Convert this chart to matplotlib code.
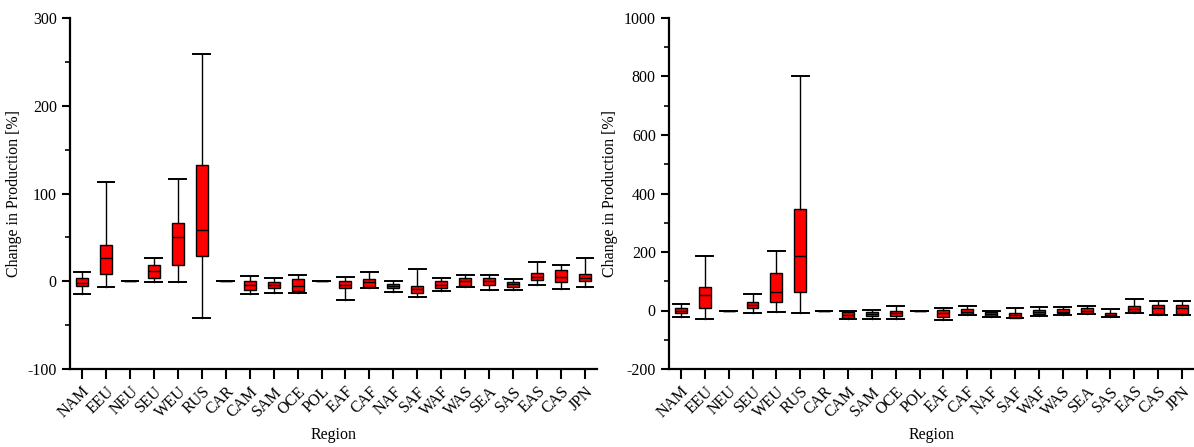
import matplotlib
matplotlib.use("Agg")
import matplotlib.pyplot as plt
from matplotlib.ticker import MultipleLocator

plt.rcParams['font.family'] = ['Liberation Serif', 'DejaVu Serif']
plt.rcParams['axes.unicode_minus'] = False

regions = ["NAM", "EEU", "NEU", "SEU", "WEU", "RUS", "CAR", "CAM", "SAM", "OCE", "POL",
           "EAF", "CAF", "NAF", "SAF", "WAF", "WAS", "SEA", "SAS", "EAS", "CAS", "JPN"]

# Left panel (whisker low, Q1, median, Q3, whisker high)
left_wlo = [-15, -7, 0, -1, -1, -42, 0, -15, -13, -13, 0, -21.5, -7.5, -11.7, -18, -11.3, -7, -9.7, -10, -4.5, -8.6, -6.3]
left_q1 = [-5, 8, 0, 3.5, 18.5, 29, 0, -9.5, -8, -11, 0, -7.5, -6, -7.5, -13, -7.5, -5, -4, -6, 1, -0.3, 0]
left_med = [-2, 26, 0, 12, 50, 58.5, 0, -4, -4, -5, 0, -4, -1, -5, -8.6, -4, 0, 0, -3, 5, 5, 4]
left_q3 = [4, 41, 0, 18, 66, 133, 0, 0, -1, 2, 0, 0, 3, -2.6, -4.9, 0, 4, 4, -0.3, 9.5, 12.5, 8]
left_whi = [10, 113.5, 0, 26, 116, 259.5, 0, 6.5, 3.5, 7.6, 0, 5, 10.6, 0.8, 13.6, 3.4, 7, 7, 2, 22, 19, 26.5]

# Right panel
right_wlo = [-20.6, -30, 0, -10, -4.6, -10, 0, -30, -28, -28, 0, -32, -16, -23, -27, -20.5, -17, -12.5, -23, -7, -17, -16]
right_q1 = [-9, 7, 0, 7, 29.5, 62, 0, -24, -20, -20, 0, -22, -12.5, -20.5, -24, -12.5, -10, -10, -20.5, -4.5, -12.5, -12.5]
right_med = [0, 53.6, 0, 18, 62, 185, 0, -15, -12, -10, 0, -10, -4.5, -12.5, -15, -4.5, -3.5, 0, -14, 4.6, 7, 7]
right_q3 = [10, 81, 0, 29.5, 127, 348, 0, -6, -6, -2, 0, 1, 4.5, -4.5, -7, 1, 4.6, 10, -7, 16, 18, 18]
right_whi = [21.6, 186, 0, 56, 204, 803, 0, -1, 0.5, 14, 0, 10, 14, 0, 9, 11.4, 11, 16, 4.5, 39, 32, 34]

fig = plt.figure(figsize=(11.94, 4.47), dpi=100)
ax1 = fig.add_axes([70/1194, 1-369/447, 527/1194, 351/447])
ax2 = fig.add_axes([669/1194, 1-369/447, 525/1194, 351/447])


def draw(ax, wlo, q1, med, q3, whi, ylim, major, minor):
    stats = []
    for i, r in enumerate(regions):
        stats.append(dict(label=r, whislo=wlo[i], q1=q1[i], med=med[i], q3=q3[i], whishi=whi[i], fliers=[]))
    ax.bxp(stats, positions=range(len(regions)), widths=0.5, capwidths=0.7,
           showfliers=False, patch_artist=True,
           boxprops=dict(facecolor='#ff0000', edgecolor='black', linewidth=1.0),
           medianprops=dict(color='black', linewidth=1.0),
           whiskerprops=dict(color='black', linewidth=1.0),
           capprops=dict(color='black', linewidth=1.4))
    ax.set_xlim(-0.5, len(regions) - 0.5)
    ax.set_ylim(*ylim)
    ax.yaxis.set_major_locator(MultipleLocator(major))
    ax.yaxis.set_minor_locator(MultipleLocator(minor))
    ax.set_xticks(range(len(regions)))
    ax.set_xticklabels(regions, rotation=45, ha='right', va='top', rotation_mode='anchor', fontsize=11.5)
    for s in ['top', 'right']:
        ax.spines[s].set_visible(False)
    for s in ['left', 'bottom']:
        ax.spines[s].set_linewidth(1.6)
    ax.tick_params(axis='both', which='major', direction='out', length=6, width=1.5, labelsize=11.5)
    ax.tick_params(axis='y', which='minor', direction='out', length=3.5, width=1.2)
    ax.tick_params(axis='x', which='major', length=7)
    ax.set_xlabel('Region', fontsize=11.5, labelpad=4)
    ax.set_ylabel('Change in Production [%]', fontsize=11.5)
    ax.set_facecolor('white')


draw(ax1, left_wlo, left_q1, left_med, left_q3, left_whi, (-100, 300), 100, 50)
draw(ax2, right_wlo, right_q1, right_med, right_q3, right_whi, (-200, 1000), 200, 100)

fig.savefig('out.png', dpi=100)
